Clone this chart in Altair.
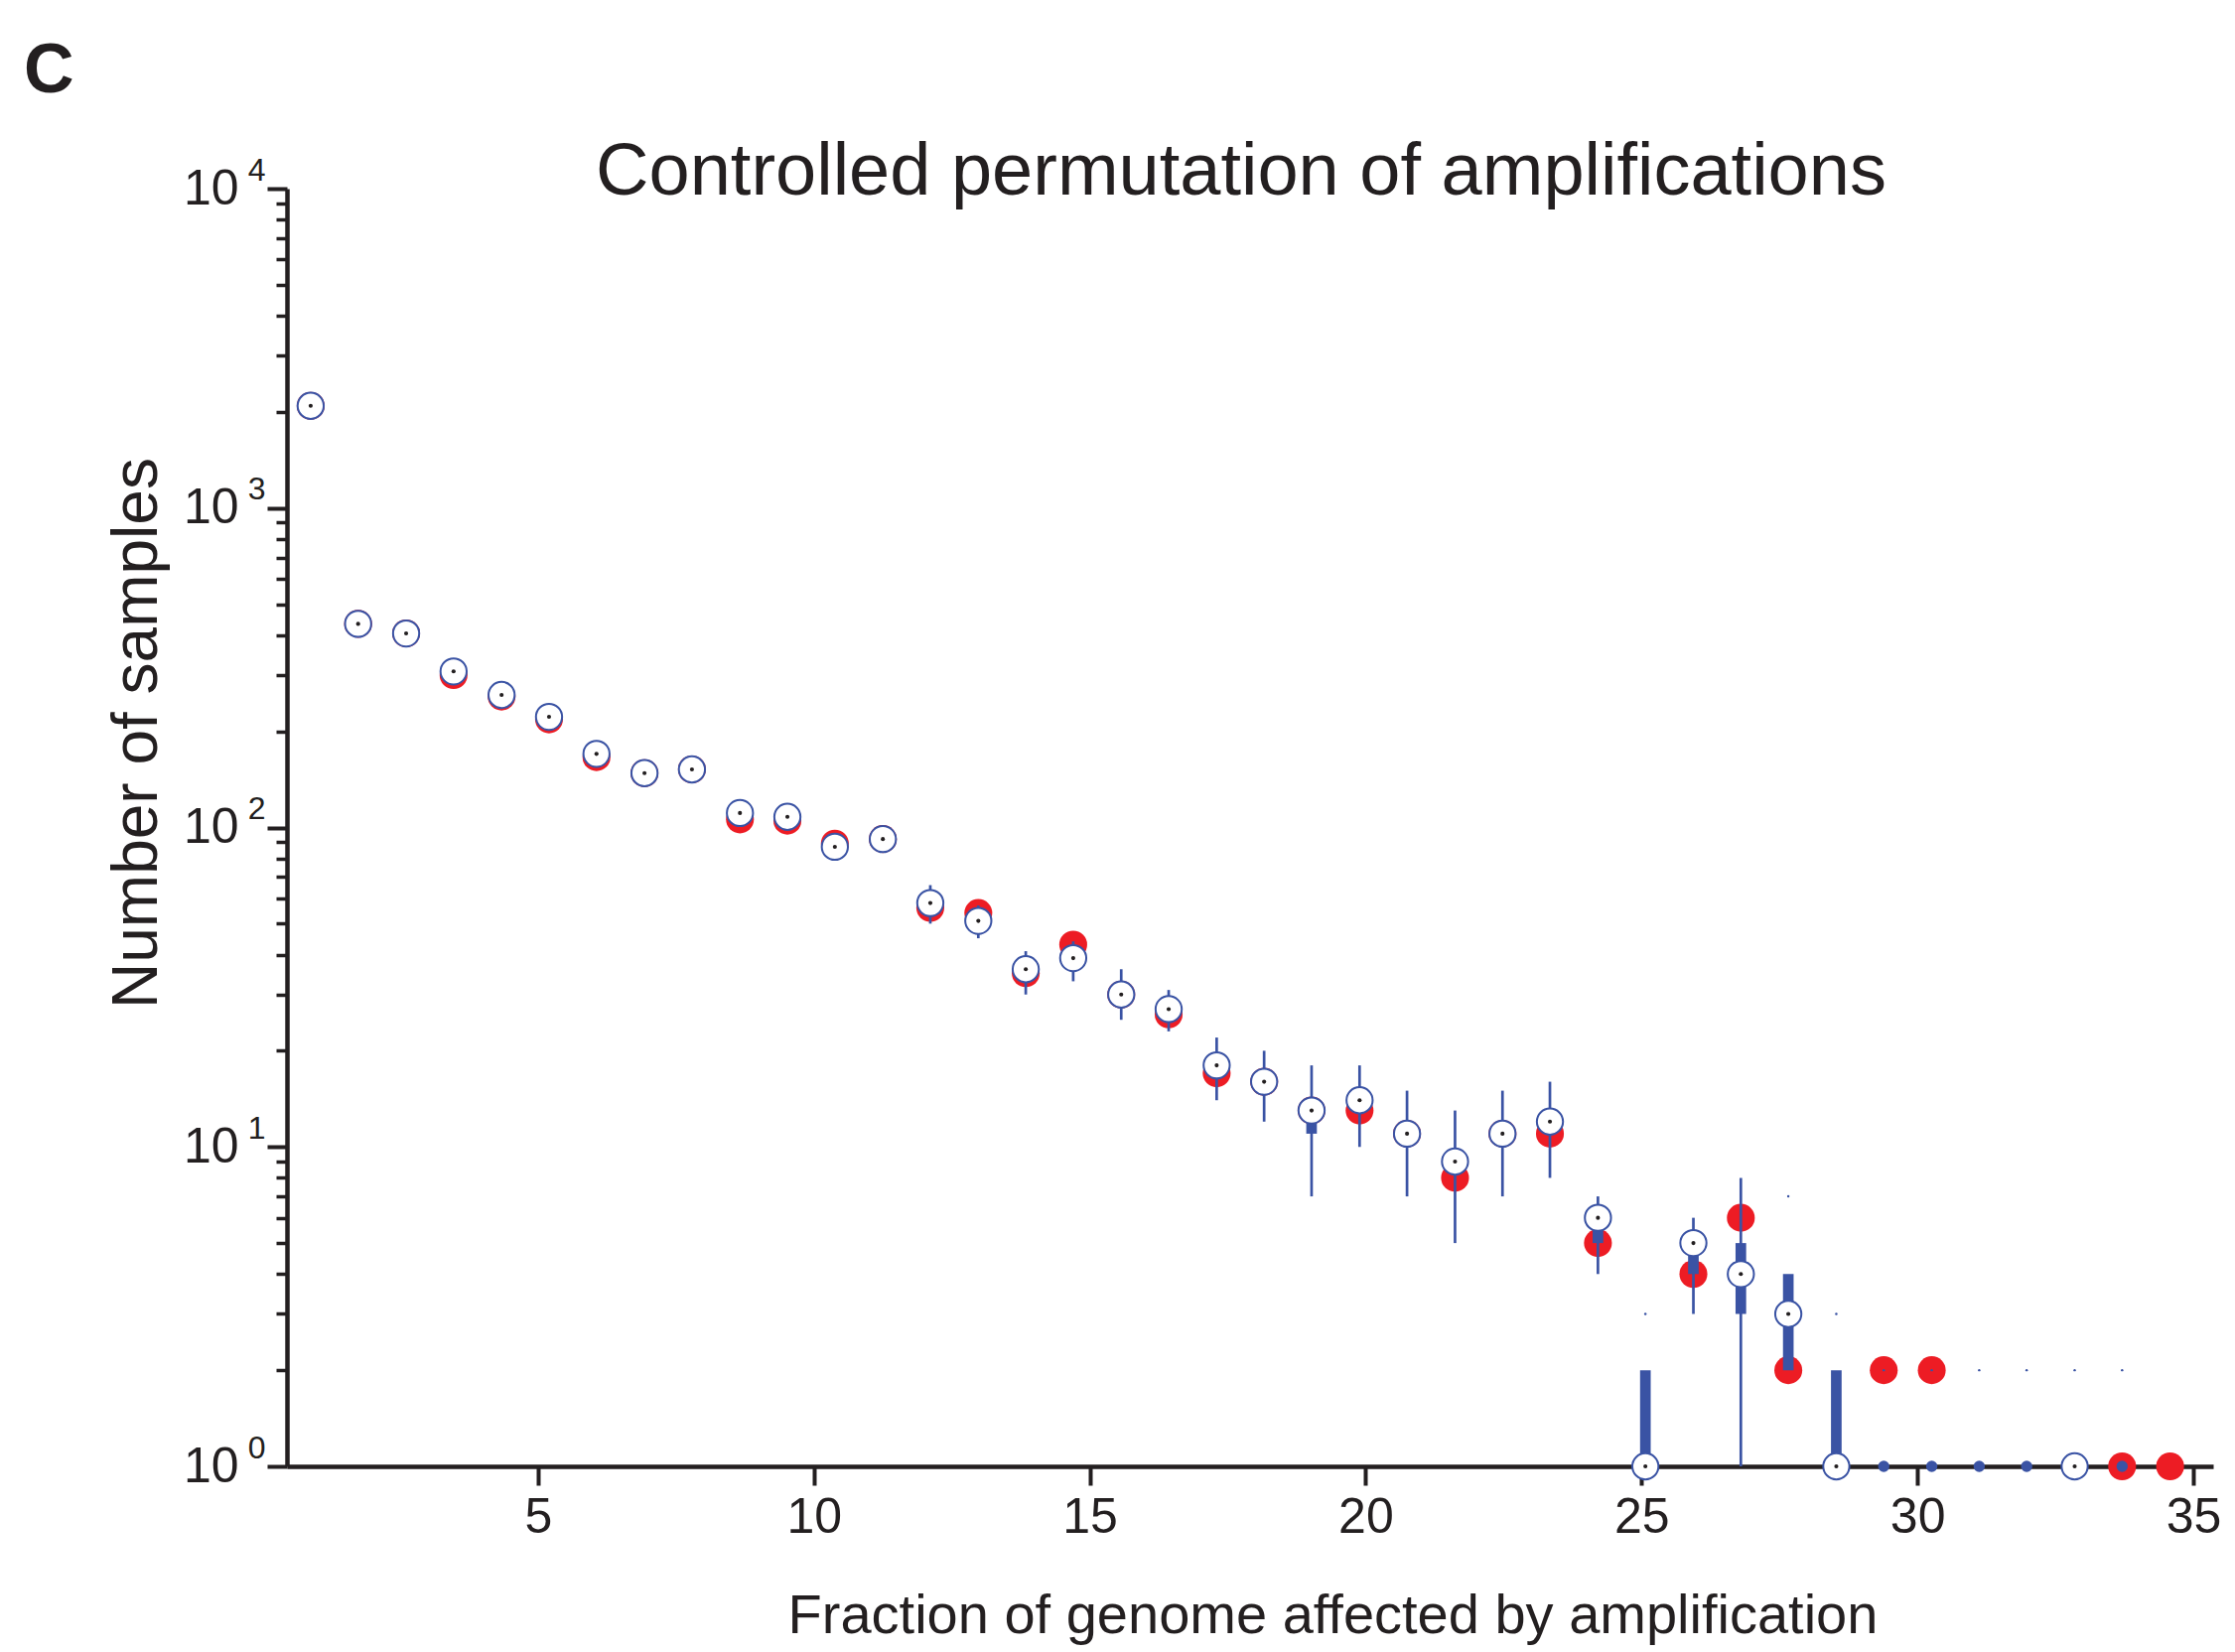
import altair as alt
import pandas as pd

# ---- data ----
x_center = [0.88, 1.74, 2.61, 3.47, 4.34, 5.20, 6.06, 6.93, 7.79, 8.66,
            9.52, 10.38, 11.25, 12.11, 12.98, 13.84, 14.70, 15.57, 16.43, 17.30,
            18.16, 19.02, 19.89, 20.75, 21.62, 22.48, 23.34, 24.21, 25.07, 25.94,
            26.80, 27.66, 28.53, 29.39, 30.26, 31.12, 31.98, 32.85, 33.71, 34.58]

observed = [2090, 434, 405, 300, 257, 218, 166, 148, 152, 106,
            105, 89, 92, 56, 54, 35, 43, 30, 26, 17,
            16, 13, 13, 11, 8, 11, 11, 5, None, 4,
            6, 2, None, 2, 2, None, None, None, 1, 1]

perm_median = [2090, 434, 405, 308, 260, 222, 170, 148, 152, 111,
               108, 87, 92, 58, 51, 36, 39, 30, 27, 18,
               16, 13, 14, 11, 9, 11, 12, 6, 1, 5,
               4, 3, 1, None, None, None, None, 1, None, None]

box_lo = [None] * 21 + [11, None, None, None, None, None, 5, 1, 4, 3, 2, 1] + [None] * 7
box_hi = [None] * 21 + [13, None, None, None, None, None, 6, 2, 5, 5, 4, 2] + [None] * 7

whisker_lo = [None] * 13 + [50, 45, 30, 33, 25, 23, 14, 12, 7, 10, 7, 5, 7, 8, 4, None, 3, 1, None, None] + [None] * 7
whisker_hi = [None] * 13 + [66, 57, 41, 44, 36, 31, 22, 20, 18, 18, 15, 13, 15, 16, 7, None, 6, 8, None, None] + [None] * 7

small_median = [None] * 33 + [1, 1, 1, 1, None, 1, None]

outlier_x = [25.07, 27.66, 28.53, 29.39, 30.26, 31.12, 31.98, 32.85, 33.71]
outlier_y = [3, 7, 3, 2, 2, 2, 2, 2, 2]

x_ticks = [5, 10, 15, 20, 25, 30, 35]
y_major = [1, 10, 100, 1000, 10000]
y_minor = [k * 10 ** d for d in range(4) for k in range(2, 10)]

RED = "#ED1C24"
BLUE = "#3A53A4"
INK = "#231F20"
FONT = "Liberation Sans"

def frame(**cols):
    df = pd.DataFrame(cols)
    return df.dropna().reset_index(drop=True)

df_obs = frame(x=x_center, v=observed)
df_med = frame(x=x_center, v=perm_median)
df_box = frame(x=x_center, lo=box_lo, hi=box_hi)
df_wh = frame(x=x_center, lo=whisker_lo, hi=whisker_hi)
df_small = frame(x=x_center, v=small_median)
df_out = frame(x=outlier_x, v=outlier_y)

xscale = alt.Scale(domain=[0.45, 35.36], nice=False, zero=False)
yscale = alt.Scale(type="log", domain=[1, 10000], nice=False)

x_axis = alt.Axis(values=x_ticks, tickSize=19, tickWidth=4, tickColor=INK,
                  domainWidth=4.5, domainColor=INK, grid=False,
                  labelFontSize=50, labelPadding=7, labelColor=INK, labelFont=FONT,
                  labelFlush=False, labelOverlap=False,
                  title="Fraction of genome affected by amplification",
                  titleFontSize=56, titleFont=FONT, titleFontWeight="normal",
                  titleColor=INK, titleX=1053, titleY=167,
                  titleAlign="center", titleBaseline="alphabetic")

y_axis_major = alt.Axis(orient="left", values=y_major, labelExpr="'10'",
                        tickSize=20, tickWidth=4, tickColor=INK,
                        domainWidth=4.5, domainColor=INK, grid=False,
                        labelFontSize=50, labelPadding=29, labelColor=INK, labelFont=FONT,
                        labelOverlap=False, labelFlush=False,
                        title="Number of samples", titleFontSize=64, titleFont=FONT,
                        titleFontWeight="normal", titleColor=INK,
                        titleAngle=270, titleAlign="center", titleBaseline="alphabetic",
                        titleX=-132, titleY=548)

y_axis_exp = alt.Axis(orient="left", values=y_major,
                      labelExpr="round(log(datum.value) / LN10) + ''",
                      ticks=False, domain=False, grid=False,
                      labelFontSize=32, labelPadding=22, labelOffset=-19,
                      labelColor=INK, labelFont=FONT, labelOverlap=False, labelFlush=False,
                      title=None)

y_axis_minor = alt.Axis(orient="left", values=y_minor, labels=False,
                        tickSize=11, tickWidth=3.5, tickColor=INK,
                        domain=False, grid=False, title=None)

X = alt.X("x:Q", scale=xscale, axis=x_axis)

red = alt.Chart(df_obs).mark_circle(size=789, color=RED, opacity=1).encode(
    x=X,
    y=alt.Y("v:Q", scale=yscale, axis=y_axis_major),
)

whisk = alt.Chart(df_wh).mark_rule(strokeWidth=2.7, color=BLUE).encode(
    x=X,
    y=alt.Y("lo:Q", scale=yscale, axis=None),
    y2="hi:Q",
)

box = alt.Chart(df_box).mark_rule(strokeWidth=10.7, color=BLUE).encode(
    x=X,
    y=alt.Y("lo:Q", scale=yscale, axis=None),
    y2="hi:Q",
)

circles = alt.Chart(df_med).mark_point(shape="circle", size=693, fill="white",
                                       fillOpacity=1, stroke=BLUE, strokeWidth=2,
                                       opacity=1, filled=False).encode(
    x=X,
    y=alt.Y("v:Q", scale=yscale, axis=y_axis_exp),
)

centers = alt.Chart(df_med).mark_circle(size=17, color=INK, opacity=1).encode(
    x=X,
    y=alt.Y("v:Q", scale=yscale, axis=y_axis_minor),
)

small = alt.Chart(df_small).mark_circle(size=130, color=BLUE, opacity=1).encode(
    x=X,
    y=alt.Y("v:Q", scale=yscale, axis=None),
)

outl = alt.Chart(df_out).mark_circle(size=6, color=BLUE, opacity=1).encode(
    x=X,
    y=alt.Y("v:Q", scale=yscale, axis=None),
)

panel = alt.Chart(pd.DataFrame({"t": ["C"]})).mark_text(
    align="left", baseline="alphabetic", fontSize=70, fontWeight="bold",
    font=FONT, color=INK).encode(text="t:N", x=alt.value(-265), y=alt.value(-97))

chart = alt.layer(red, whisk, box, circles, centers, small, outl, panel).resolve_axis(
    y="independent"
).properties(
    width=1940,
    height=1287,
    background="white",
    autosize=alt.AutoSizeParams(type="none"),
    padding={"left": 289, "top": 190, "right": 22, "bottom": 187},
    title=alt.Title("Controlled permutation of amplifications", fontSize=74,
                    fontWeight="normal", font=FONT, color=INK, anchor="middle",
                    frame="group", baseline="alphabetic", offset=-233, dx=-9),
).configure_view(stroke=None, strokeWidth=0)

chart.save("out.html", embed_options={"renderer": "svg", "actions": False})
